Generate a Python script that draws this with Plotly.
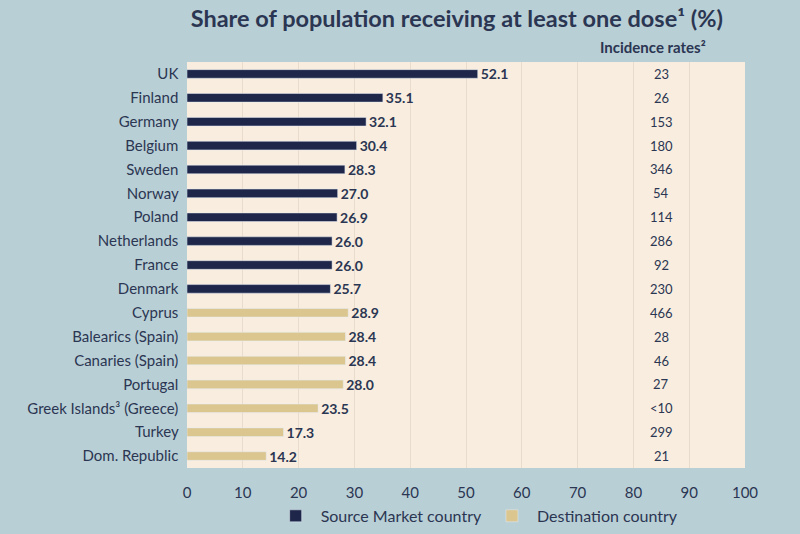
import plotly.graph_objects as go

source_countries = ["UK", "Finland", "Germany", "Belgium", "Sweden", "Norway",
                    "Poland", "Netherlands", "France", "Denmark"]
source_share = [52.1, 35.1, 32.1, 30.4, 28.3, 27.0, 26.9, 26.0, 26.0, 25.7]
source_incidence = ["23", "26", "153", "180", "346", "54", "114", "286", "92", "230"]

dest_countries = ["Cyprus", "Balearics (Spain)", "Canaries (Spain)", "Portugal",
                  "Greek Islands³ (Greece)", "Turkey", "Dom. Republic"]
dest_share = [28.9, 28.4, 28.4, 28.0, 23.5, 17.3, 14.2]
dest_incidence = ["466", "28", "46", "27", "<10", "299", "21"]

x_ticks = [0, 10, 20, 30, 40, 50, 60, 70, 80, 90, 100]

NAVY = "#1e2749"
TAN = "#dcc68f"
TEXT = "#2b3652"
FONT = "Lato"

all_countries = source_countries + dest_countries
all_incidence = source_incidence + dest_incidence

fig = go.Figure()
fig.add_trace(go.Bar(
    y=source_countries, x=source_share, orientation="h",
    name="Source Market country", marker_color=NAVY,
    texttemplate="<b>%{x:.1f}</b>", textposition="outside", cliponaxis=False,
    constraintext="none",
    textfont=dict(family=FONT, size=14, color=TEXT),
))
fig.add_trace(go.Bar(
    y=dest_countries, x=dest_share, orientation="h",
    name="Destination country", marker_color=TAN,
    texttemplate="<b>%{x:.1f}</b>", textposition="outside", cliponaxis=False,
    constraintext="none",
    textfont=dict(family=FONT, size=14, color=TEXT),
))

for c, v in zip(all_countries, all_incidence):
    fig.add_annotation(x=85, y=c, xref="x", yref="y", text=v, showarrow=False,
                       font=dict(family=FONT, size=13, color=TEXT))

fig.add_annotation(x=83.5, y=1.0, xref="x", yref="paper", yshift=15, yanchor="middle",
                   text="<b>Incidence rates²</b>", showarrow=False,
                   font=dict(family=FONT, size=15, color=TEXT))

fig.update_layout(
    width=800, height=534,
    margin=dict(l=187, r=55, t=62, b=66, autoexpand=False),
    paper_bgcolor="#b9cfd6",
    plot_bgcolor="#f8eddf",
    barmode="overlay",
    bargap=0.64,
    title=dict(text="<b>Share of population receiving at least one dose¹ (%)</b>",
               x=0.571, xanchor="center", y=0.965, yanchor="middle",
               font=dict(family=FONT, size=23.5, color=TEXT)),
    font=dict(family=FONT, color=TEXT),
    showlegend=True,
    legend=dict(orientation="h", x=0.52, xanchor="center", y=-0.118, yanchor="middle",
                bgcolor="rgba(0,0,0,0)", font=dict(family=FONT, size=16, color=TEXT),
                itemwidth=40),
    xaxis=dict(range=[0, 100], tickvals=x_ticks, showgrid=True, gridcolor="#e9dccd",
               gridwidth=1, zeroline=False, showline=False, automargin=False,
               ticks="outside", ticklen=11, tickcolor="rgba(0,0,0,0)",
               tickfont=dict(family=FONT, size=15, color=TEXT)),
    yaxis=dict(categoryorder="array", categoryarray=all_countries, autorange="reversed",
               showgrid=False, ticks="", ticksuffix="  ", automargin=False,
               tickfont=dict(family=FONT, size=15, color=TEXT)),
)

fig.write_html("out.html")
